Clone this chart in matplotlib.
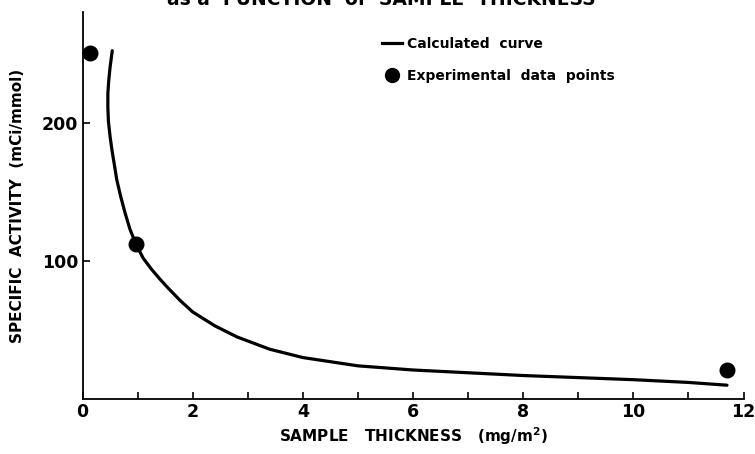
"""
Specific activity as a function of sample thickness - calculated curve vs experiment
"""

import matplotlib
matplotlib.use('Agg')
import matplotlib.pyplot as plt
from matplotlib.lines import Line2D

# Calculated curve
curve_thickness = [0.54, 0.5, 0.475, 0.46, 0.46, 0.47, 0.5, 0.535, 0.58, 0.62, 0.69,
                   0.77, 0.86, 0.97, 1.1, 1.25, 1.4, 1.56, 1.78, 2.0, 2.4, 2.8,
                   3.4, 4.0, 5.0, 6.0, 7.0, 8.0, 9.0, 10.0, 11.0, 11.7]
curve_activity = [252, 240, 230, 221, 211, 201, 190, 180, 169, 159, 147,
                  135, 123, 112, 102, 94, 87, 80, 71, 63, 53, 45,
                  36, 30, 24, 21, 19, 17, 15.5, 14, 12, 10]

# Experimental data points
exp_thickness = [0.13, 0.97, 11.7]
exp_activity = [250, 112, 21]

x_ticks = list(range(0, 13))
x_tick_labels = ['0', '', '2', '', '4', '', '6', '', '8', '', '10', '', '12']
y_ticks = [100, 200]
y_tick_labels = ['100', '200']

plt.rcParams['font.family'] = ['DejaVu Sans']
plt.rcParams['font.weight'] = 'bold'

fig = plt.figure(figsize=(7.55, 4.54), dpi=100)
ax = fig.add_axes([0.1093, 0.1211, 0.8755, 0.8524])

line, = ax.plot(curve_thickness, curve_activity, color='black', linewidth=2.3,
                solid_capstyle='round', solid_joinstyle='round')
pts = ax.scatter(exp_thickness, exp_activity, s=110, color='black', zorder=5,
                 clip_on=False)

ax.set_xlim(0, 12)
ax.set_ylim(0, 280)

for side in ['top', 'right']:
    ax.spines[side].set_visible(False)
for side in ['left', 'bottom']:
    ax.spines[side].set_linewidth(1.3)

ax.set_xticks(x_ticks)
ax.set_xticklabels(x_tick_labels)
ax.set_yticks(y_ticks)
ax.set_yticklabels(y_tick_labels)
ax.tick_params(direction='in', length=5, width=1.2, labelsize=12.5, pad=3)

ax.set_xlabel('SAMPLE   THICKNESS   (mg/m$^\\mathbf{2}$)', fontsize=11,
              fontweight='bold', labelpad=3)
ax.set_ylabel('SPECIFIC  ACTIVITY  (mCi/mmol)', fontsize=11,
              fontweight='bold', labelpad=12)

# title, mostly cropped off the top of the page
fig.text(0.505, 1 - 5 / 454, 'as a  FUNCTION  of  SAMPLE  THICKNESS', ha='center',
         va='baseline', fontsize=13.5, fontweight='bold')

handles = [
    Line2D([0], [0], color='black', linewidth=2.3),
    Line2D([0], [0], marker='o', color='w', markerfacecolor='black',
           markeredgecolor='black', markersize=10),
]
ax.legend(handles, ['Calculated  curve', 'Experimental  data  points'],
          loc='upper left', bbox_to_anchor=(0.445, 0.95), frameon=False,
          fontsize=10, handlelength=1.4, handletextpad=0.4, labelspacing=1.3,
          borderaxespad=0)

plt.savefig('out.png', dpi=100)
plt.close()
